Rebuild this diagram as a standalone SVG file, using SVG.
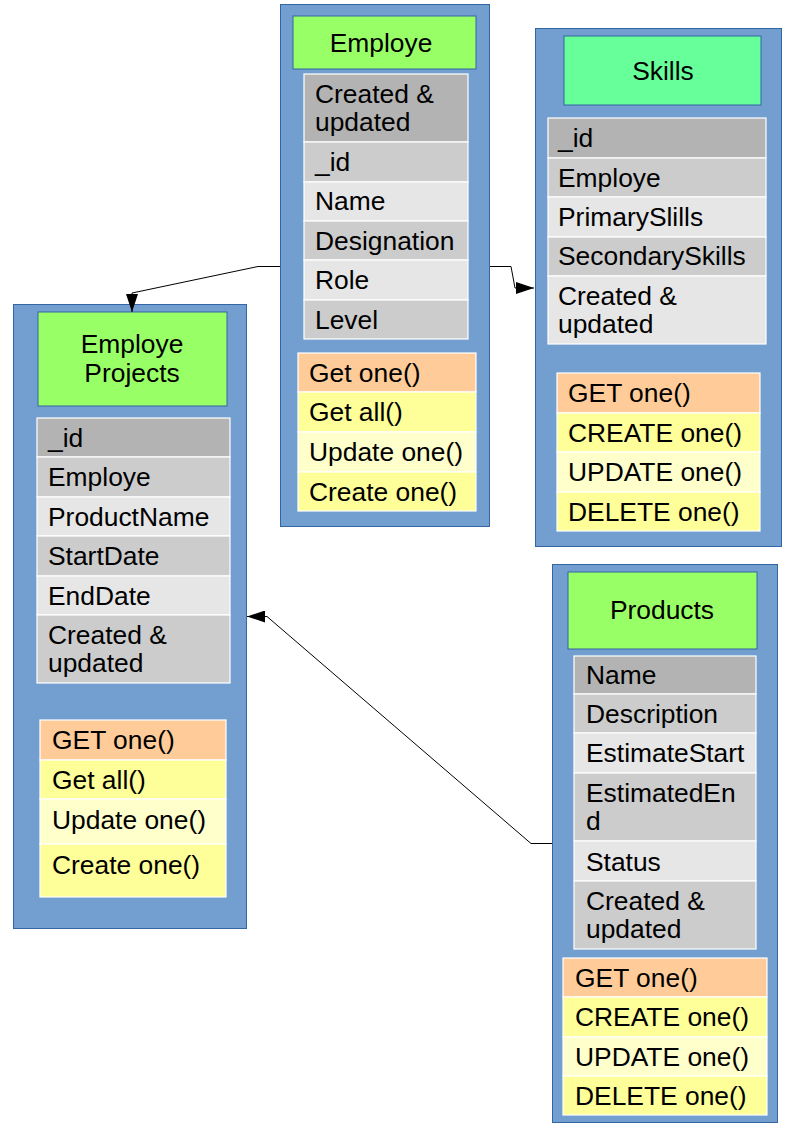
<svg xmlns="http://www.w3.org/2000/svg" width="794" height="1123" viewBox="0 0 794 1123">
<style>
.box{fill:#729fcf;stroke:#3465a4;stroke-width:1}
.hdr{stroke:#3465a4;stroke-width:1}
.g1{fill:#99ff66}
.g2{fill:#66ff99}
.r{stroke:#ffffff;stroke-width:1.2}
.a{fill:#b3b3b3}
.b{fill:#cccccc}
.c{fill:#e6e6e6}
.o{fill:#ffcc99}
.y{fill:#ffff99}
.ly{fill:#ffffcc}
text{font-family:"Liberation Sans",Arial,sans-serif;font-size:26.4px;fill:#000000}
.h{text-anchor:middle}
.con{fill:none;stroke:#000000;stroke-width:1}
</style>
<defs>
<marker id="arr" viewBox="0 0 18 12" refX="18" refY="6" markerWidth="18" markerHeight="12" markerUnits="userSpaceOnUse" orient="auto">
<path d="M0,0 L18,6 L0,12 Z" fill="#000000"/>
</marker>
</defs>

<g id="employe">
<rect class="box" x="280.5" y="4.5" width="209" height="522"/>
<rect class="hdr g1" x="293" y="16" width="183" height="53"/>
<text class="h" x="381" y="52">Employe</text>
<rect class="r a" x="304" y="74" width="164" height="68"/>
<rect class="r b" x="304" y="142" width="164" height="40"/>
<rect class="r c" x="304" y="182" width="164" height="39"/>
<rect class="r b" x="304" y="221" width="164" height="39"/>
<rect class="r c" x="304" y="260" width="164" height="40"/>
<rect class="r b" x="304" y="300" width="164" height="39"/>
<text x="315" y="103">Created &amp;</text>
<text x="315" y="131">updated</text>
<text x="315" y="171">_id</text>
<text x="315" y="210">Name</text>
<text x="315" y="250">Designation</text>
<text x="315" y="289">Role</text>
<text x="315" y="329">Level</text>
<rect class="r o" x="298" y="353" width="178" height="39"/>
<rect class="r y" x="298" y="392" width="178" height="40"/>
<rect class="r ly" x="298" y="432" width="178" height="40"/>
<rect class="r y" x="298" y="472" width="178" height="39"/>
<text x="309" y="382">Get one()</text>
<text x="309" y="421">Get all()</text>
<text x="309" y="461">Update one()</text>
<text x="309" y="501">Create one()</text>
</g>

<g id="skills">
<rect class="box" x="535.5" y="28.5" width="246" height="518"/>
<rect class="hdr g2" x="564" y="36" width="197" height="69"/>
<text class="h" x="663" y="80">Skills</text>
<rect class="r a" x="548" y="118" width="218" height="40"/>
<rect class="r b" x="548" y="158" width="218" height="39"/>
<rect class="r c" x="548" y="197" width="218" height="40"/>
<rect class="r b" x="548" y="237" width="218" height="39"/>
<rect class="r c" x="548" y="276" width="218" height="68"/>
<text x="558" y="147">_id</text>
<text x="558" y="187">Employe</text>
<text x="558" y="226">PrimarySlills</text>
<text x="558" y="265">SecondarySkills</text>
<text x="558" y="305">Created &amp;</text>
<text x="558" y="333">updated</text>
<rect class="r o" x="557" y="373" width="203" height="40"/>
<rect class="r y" x="557" y="413" width="203" height="39"/>
<rect class="r ly" x="557" y="452" width="203" height="40"/>
<rect class="r y" x="557" y="492" width="203" height="39"/>
<text x="568" y="402">GET one()</text>
<text x="568" y="442">CREATE one()</text>
<text x="568" y="481">UPDATE one()</text>
<text x="568" y="521">DELETE one()</text>
</g>

<g id="employe-projects">
<rect class="box" x="13.5" y="304.5" width="233" height="624"/>
<rect class="hdr g1" x="38" y="312" width="189" height="94"/>
<text class="h" x="132" y="353">Employe</text>
<text class="h" x="132" y="382">Projects</text>
<rect class="r a" x="37" y="418" width="193" height="39"/>
<rect class="r b" x="37" y="457" width="193" height="40"/>
<rect class="r c" x="37" y="497" width="193" height="39"/>
<rect class="r b" x="37" y="536" width="193" height="40"/>
<rect class="r c" x="37" y="576" width="193" height="39"/>
<rect class="r b" x="37" y="615" width="193" height="68"/>
<text x="48" y="447">_id</text>
<text x="48" y="486">Employe</text>
<text x="48" y="526">ProductName</text>
<text x="48" y="565">StartDate</text>
<text x="48" y="605">EndDate</text>
<text x="48" y="644">Created &amp;</text>
<text x="48" y="672">updated</text>
<rect class="r o" x="40" y="720" width="186" height="40"/>
<rect class="r y" x="40" y="760" width="186" height="39"/>
<rect class="r ly" x="40" y="799" width="186" height="45"/>
<rect class="r y" x="40" y="844" width="186" height="53"/>
<text x="52" y="749">GET one()</text>
<text x="52" y="789">Get all()</text>
<text x="52" y="829">Update one()</text>
<text x="52" y="874">Create one()</text>
</g>

<g id="products">
<rect class="box" x="552.5" y="564.5" width="225" height="558"/>
<rect class="hdr g1" x="568" y="572" width="189" height="77"/>
<text class="h" x="662" y="619">Products</text>
<rect class="r a" x="574" y="656" width="182" height="38"/>
<rect class="r b" x="574" y="694" width="182" height="39"/>
<rect class="r c" x="574" y="733" width="182" height="40"/>
<rect class="r b" x="574" y="773" width="182" height="68"/>
<rect class="r c" x="574" y="841" width="182" height="40"/>
<rect class="r b" x="574" y="881" width="182" height="68"/>
<text x="586" y="684">Name</text>
<text x="586" y="723">Description</text>
<text x="586" y="762">EstimateStart</text>
<text x="586" y="802">EstimatedEn</text>
<text x="586" y="830">d</text>
<text x="586" y="871">Status</text>
<text x="586" y="910">Created &amp;</text>
<text x="586" y="938">updated</text>
<rect class="r o" x="563" y="958" width="204" height="39"/>
<rect class="r y" x="563" y="997" width="204" height="40"/>
<rect class="r ly" x="563" y="1037" width="204" height="39"/>
<rect class="r y" x="563" y="1076" width="204" height="39"/>
<text x="575" y="987">GET one()</text>
<text x="575" y="1026">CREATE one()</text>
<text x="575" y="1066">UPDATE one()</text>
<text x="575" y="1105">DELETE one()</text>
</g>

<g id="connectors">
<polyline class="con" points="280,266.5 258,266.5 132,293 132,312" marker-end="url(#arr)"/>
<polyline class="con" points="490,266.5 511,266.5 515,288 534,288" marker-end="url(#arr)"/>
<polyline class="con" points="552,843.5 531,843.5 267,616.5 247,616.5" marker-end="url(#arr)"/>
</g>
</svg>
